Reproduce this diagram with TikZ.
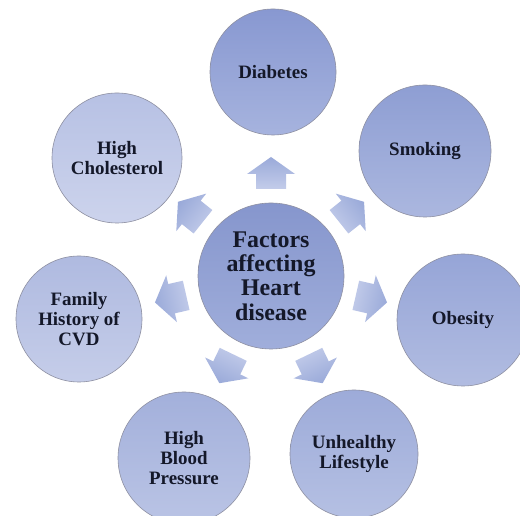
\documentclass[tikz,border=0pt]{standalone}
\usepackage{fontspec}
\setmainfont{Liberation Serif}
\usetikzlibrary{calc}
\definecolor{txt}{HTML}{141829}
\definecolor{rim}{HTML}{8E90A2}
\definecolor{hubT}{HTML}{8696CD}
\definecolor{hubB}{HTML}{A0AEDB}
\definecolor{arrT}{HTML}{9AAAD9}
\definecolor{arrB}{HTML}{C3CCEA}
\definecolor{c1T}{HTML}{8898D1}\definecolor{c1B}{HTML}{A6B3DE}
\definecolor{c2T}{HTML}{8E9ED3}\definecolor{c2B}{HTML}{ABB7DF}
\definecolor{c3T}{HTML}{96A5D7}\definecolor{c3B}{HTML}{B1BCE1}
\definecolor{c4T}{HTML}{9DABD9}\definecolor{c4B}{HTML}{B5C0E3}
\definecolor{c5T}{HTML}{A3B0DB}\definecolor{c5B}{HTML}{BAC4E5}
\definecolor{c6T}{HTML}{AFBAE0}\definecolor{c6B}{HTML}{C5CDE9}
\definecolor{c7T}{HTML}{B7C1E4}\definecolor{c7B}{HTML}{CCD3EC}
\tikzset{
  factor/.style={circle, draw=rim, line width=0.6bp, inner sep=0pt, align=center,
    text=txt, font=\bfseries\fontsize{19}{20}\selectfont},
  hub/.style={factor, minimum size=146bp, font=\bfseries\fontsize{24}{24.5}\selectfont,
    top color=hubT, bottom color=hubB},
  blockarrow/.style={top color=arrT, bottom color=arrB, draw=none}
}
\begin{document}
\begin{tikzpicture}[x=1bp,y=1bp]
\fill[white] (0,0) rectangle (520,516);
\useasboundingbox (0,0) rectangle (520,516);

\node[hub] (c) at (271,240) {Factors\\affecting\\Heart\\disease};

\node[factor, minimum size=126bp, top color=c1T, bottom color=c1B] (diab) at (273,444) {Diabetes};
\node[factor, minimum size=132bp, top color=c2T, bottom color=c2B] (smok) at (425,365) {Smoking};
\node[factor, minimum size=132bp, top color=c3T, bottom color=c3B] (obes) at (463,196) {Obesity};
\node[factor, minimum size=128bp, top color=c4T, bottom color=c4B] (unhe) at (354,62) {Unhealthy\\Lifestyle};
\node[factor, minimum size=132bp, top color=c5T, bottom color=c5B] (hbp) at (184,58) {High\\Blood\\Pressure};
\node[factor, minimum size=126bp, top color=c6T, bottom color=c6B] (fam) at (79,197) {Family\\History of\\CVD};
\node[factor, minimum size=130bp, top color=c7T, bottom color=c7B] (chol) at (117,358) {High\\Cholesterol};

\foreach \a in {90, 38.571, -12.857, -64.286, -115.714, -167.143, 141.429}{
  \pgfmathsetmacro{\sa}{\a-90}
  \path[blockarrow, shading angle=\sa]
    ($(c.center)+(\a:87)+(\a+90:15)$) --
    ($(c.center)+(\a:102)+(\a+90:15)$) --
    ($(c.center)+(\a:102)+(\a+90:24)$) --
    ($(c.center)+(\a:119)$) --
    ($(c.center)+(\a:102)+(\a-90:24)$) --
    ($(c.center)+(\a:102)+(\a-90:15)$) --
    ($(c.center)+(\a:87)+(\a-90:15)$) -- cycle;
}
\end{tikzpicture}
\end{document}
